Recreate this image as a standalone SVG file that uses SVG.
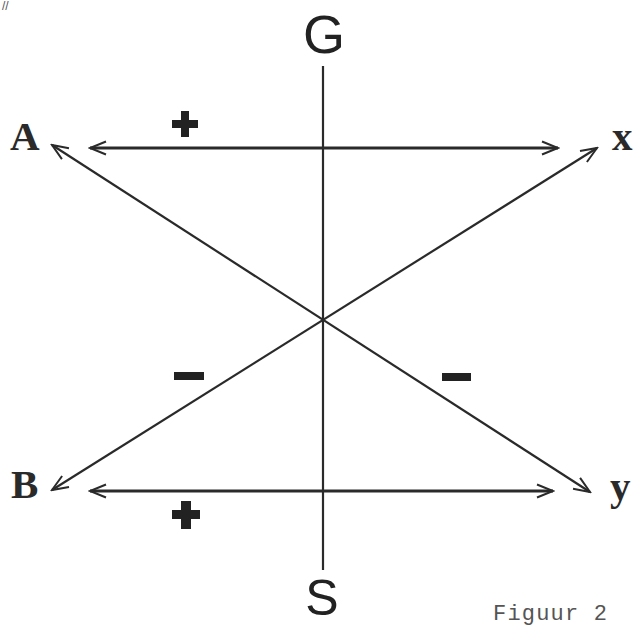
<svg xmlns="http://www.w3.org/2000/svg" width="636" height="627" viewBox="0 0 636 627">
<style>
.ln{stroke:#2a2a2a;stroke-width:2.2;fill:none}
.hl{stroke:#2a2a2a;stroke-width:2.8;fill:none}
.lbl{font-family:"Liberation Serif","Times New Roman",serif;font-weight:bold;font-size:41px;fill:#2a2a2a}
.pole{font-family:"Liberation Sans",Arial,sans-serif;font-size:54px;fill:#222;text-anchor:middle}
.sign{fill:#222}
.cap{font-family:"Liberation Mono","Courier New",monospace;font-size:22px;fill:#555}
</style>
<defs>
<marker id="ah" viewBox="-17 -9 19 18" refX="0" refY="0" markerWidth="19" markerHeight="18" markerUnits="userSpaceOnUse" orient="auto-start-reverse">
<path d="M-16,-6.5 L0,0 L-16,6.5" fill="none" stroke="#2a2a2a" stroke-width="2"/>
</marker>
</defs>
<text x="2" y="10" style="font-family:'Liberation Sans',Arial,sans-serif;font-size:12px;fill:#555">//</text>
<g id="connectors">
<line class="ln" x1="323" y1="66" x2="323" y2="570"/>
<line class="hl" x1="90" y1="148" x2="558" y2="148" marker-start="url(#ah)" marker-end="url(#ah)"/>
<line class="hl" x1="90" y1="491" x2="553" y2="491" marker-start="url(#ah)" marker-end="url(#ah)"/>
<line class="ln" x1="52" y1="145" x2="590" y2="492" marker-start="url(#ah)" marker-end="url(#ah)"/>
<line class="ln" x1="52" y1="490" x2="597" y2="148" marker-start="url(#ah)" marker-end="url(#ah)"/>
</g>
<g id="G"><text class="pole" x="324" y="53">G</text></g>
<g id="S"><text class="pole" x="322" y="615" style="font-size:50px">S</text></g>
<g id="A"><text class="lbl" x="10" y="150">A</text></g>
<g id="B"><text class="lbl" x="11" y="498">B</text></g>
<g id="x"><text class="lbl" x="612" y="150">x</text></g>
<g id="y"><text class="lbl" x="610" y="500">y</text></g>
<g id="plus-top"><rect class="sign" x="172" y="120" width="26" height="8"/><rect class="sign" x="181" y="111" width="8" height="26"/></g>
<g id="plus-bottom"><rect class="sign" x="172" y="510" width="28" height="9"/><rect class="sign" x="181" y="501" width="10" height="28"/></g>
<g id="minus-left"><rect class="sign" x="174" y="372" width="30" height="8"/></g>
<g id="minus-right"><rect class="sign" x="442" y="373" width="29" height="8"/></g>
<g id="caption"><text class="cap" x="493" y="620" textLength="114">Figuur 2</text></g>
</svg>
